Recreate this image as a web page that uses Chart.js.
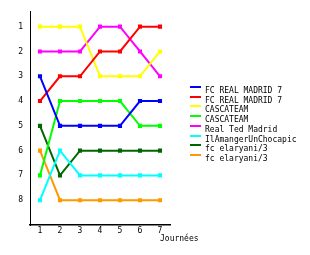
<!DOCTYPE html>
<html>
<head>
<meta charset="utf-8">
<script src="https://cdn.jsdelivr.net/npm/chart.js@4/dist/chart.umd.min.js"></script>
<style>
  html, body { margin: 0; padding: 0; background: #fff; }
  #wrap { width: 310px; height: 255px; position: relative; }
</style>
</head>
<body>
<div id="wrap"><canvas id="chart" width="310" height="255"></canvas></div>
<script>
// Journées (x) and ranking per team
const DAYS = [1, 2, 3, 4, 5, 6, 7];
const RANKS = [1, 2, 3, 4, 5, 6, 7, 8];

const TEAMS = [
  "FC REAL MADRID 7", "FC REAL MADRID 7", "CASCATEAM", "CASCATEAM",
  "Real Ted Madrid", "IlAmangerUnChocapic", "fc elaryani/3", "fc elaryani/3"
];
const COLORS = ["#0000ff", "#ff0000", "#ffff00", "#00ff00", "#ff00ff", "#00ffff", "#006600", "#ff9900"];

const blueRanks    = [3, 5, 5, 5, 5, 4, 4];
const redRanks     = [4, 3, 3, 2, 2, 1, 1];
const yellowRanks  = [1, 1, 1, 3, 3, 3, 2];
const greenRanks   = [7, 4, 4, 4, 4, 5, 5];
const magentaRanks = [2, 2, 2, 1, 1, 2, 3];
const cyanRanks    = [8, 6, 7, 7, 7, 7, 7];
const darkRanks    = [5, 7, 6, 6, 6, 6, 6];
const orangeRanks  = [6, 8, 8, 8, 8, 8, 8];

const SERIES = [blueRanks, redRanks, yellowRanks, greenRanks, magentaRanks, cyanRanks, darkRanks, orangeRanks];

const FONT = { family: "DejaVu Sans Mono", size: 8 };

// legend + axis title drawn by hand (to the right of the plot)
const sideLegend = {
  id: "sideLegend",
  afterDraw(chart) {
    const ctx = chart.ctx;
    ctx.save();
    ctx.font = "8px 'DejaVu Sans Mono'";
    ctx.textBaseline = "middle";
    ctx.fillStyle = "#000";
    TEAMS.forEach((name, i) => {
      const y = 87 + i * 9.7;
      ctx.fillStyle = COLORS[i];
      ctx.fillRect(190, Math.round(y) - 1, 11, 2);
      ctx.fillStyle = "#000";
      ctx.fillText(name, 205, Math.round(y) + 4);
    });
    ctx.fillText("Journées", 160, 239);
    ctx.restore();
  }
};

new Chart(document.getElementById("chart"), {
  type: "line",
  data: {
    datasets: SERIES.map((vals, i) => ({
      label: TEAMS[i],
      data: vals.map((v, j) => ({ x: DAYS[j], y: v })),
      borderColor: COLORS[i],
      backgroundColor: COLORS[i],
      borderWidth: 2,
      pointStyle: "rect",
      pointRadius: 1.5,
      tension: 0
    }))
  },
  options: {
    responsive: false,
    animation: false,
    layout: { padding: { top: 10, right: 140, left: 0, bottom: 0 } },
    plugins: { legend: { display: false }, tooltip: { enabled: false } },
    scales: {
      x: {
        type: "linear",
        min: 0.5,
        max: 7.5,
        afterBuildTicks: (s) => { s.ticks = DAYS.map(v => ({ value: v })); },
        afterFit: (s) => { s.height = 30; },
        border: { color: "#000", width: 1.5 },
        grid: { drawOnChartArea: false, drawTicks: false },
        ticks: { color: "#000", font: FONT, padding: 1, maxRotation: 0 }
      },
      y: {
        type: "linear",
        reverse: true,
        min: 0.4,
        max: 9,
        afterBuildTicks: (s) => { s.ticks = RANKS.map(v => ({ value: v })); },
        afterFit: (s) => { s.width = 30; },
        border: { color: "#000", width: 1 },
        grid: { drawOnChartArea: false, drawTicks: false },
        ticks: { color: "#000", font: FONT, padding: 7 }
      }
    }
  },
  plugins: [sideLegend]
});
</script>
</body>
</html>
